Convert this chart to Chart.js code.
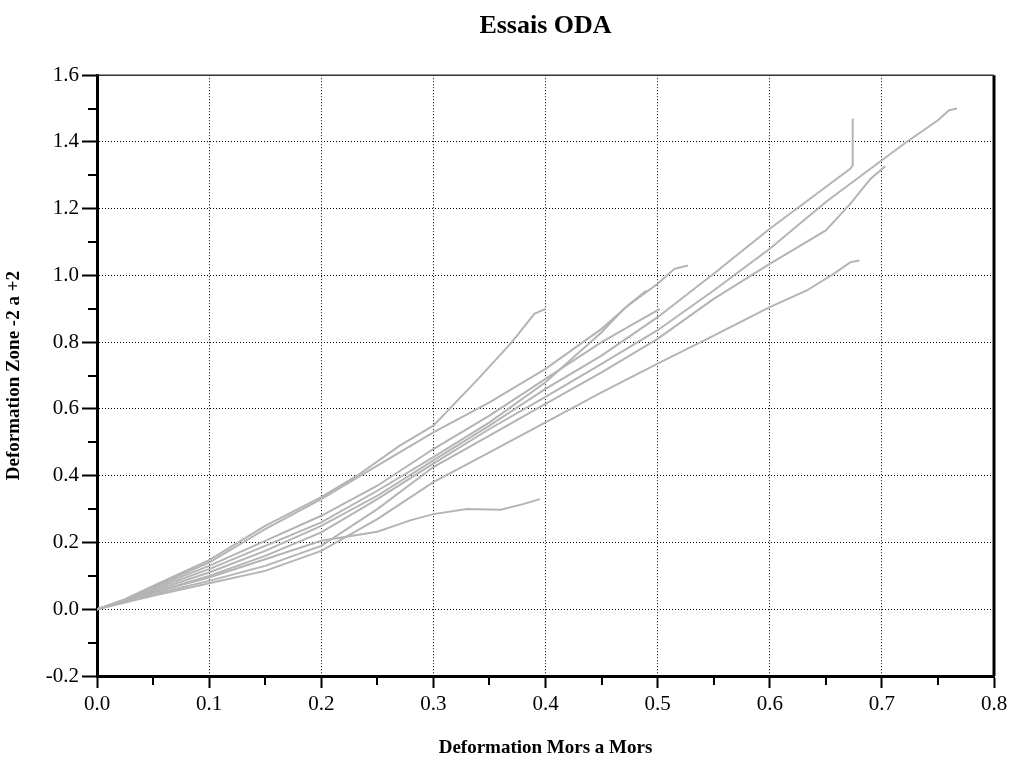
<!DOCTYPE html>
<html>
<head>
<meta charset="utf-8">
<script src="https://cdn.jsdelivr.net/npm/chart.js@4.4.0/dist/chart.umd.min.js"></script>
<style>
  html, body { margin: 0; padding: 0; background: #fff; }
</style>
</head>
<body>
<canvas id="myChart" width="1014" height="769"></canvas>
<script>
// deformation mors a mors (x) / deformation zone -2 a +2 (y), one pair per essai
const essai1X = [0, 0.025, 0.05, 0.1, 0.15, 0.2, 0.232, 0.27, 0.3, 0.34, 0.37, 0.39, 0.4];
const essai1Y = [0, 0.03, 0.07, 0.147, 0.25, 0.336, 0.4, 0.49, 0.55, 0.69, 0.8, 0.885, 0.9];

const essai2X = [0, 0.025, 0.05, 0.1, 0.15, 0.2, 0.25, 0.3, 0.35, 0.4, 0.45, 0.4755, 0.5, 0.515, 0.527];
const essai2Y = [0, 0.028, 0.068, 0.14, 0.24, 0.33, 0.43, 0.53, 0.62, 0.72, 0.84, 0.915, 0.975, 1.02, 1.03];

const essai3X = [0, 0.025, 0.05, 0.1, 0.15, 0.2, 0.25, 0.3, 0.35, 0.4, 0.45, 0.502];
const essai3Y = [0, 0.027, 0.065, 0.13, 0.205, 0.28, 0.37, 0.48, 0.58, 0.69, 0.8, 0.9];

const essai4X = [0, 0.025, 0.05, 0.1, 0.15, 0.2, 0.25, 0.3, 0.35, 0.4, 0.45, 0.47, 0.49];
const essai4Y = [0, 0.026, 0.06, 0.12, 0.19, 0.26, 0.355, 0.456, 0.56, 0.68, 0.83, 0.9, 0.955];

const essai5X = [0, 0.025, 0.05, 0.1, 0.15, 0.2, 0.25, 0.3, 0.35, 0.4, 0.45, 0.5, 0.55, 0.6, 0.65, 0.672, 0.674, 0.674];
const essai5Y = [0, 0.025, 0.055, 0.11, 0.175, 0.25, 0.34, 0.446, 0.55, 0.66, 0.76, 0.875, 1.005, 1.14, 1.265, 1.32, 1.33, 1.47];

const essai6X = [0, 0.025, 0.05, 0.1, 0.15, 0.2, 0.25, 0.3, 0.35, 0.4, 0.45, 0.5, 0.55, 0.6, 0.65, 0.7, 0.722, 0.75, 0.76, 0.767];
const essai6Y = [0, 0.024, 0.05, 0.1, 0.16, 0.23, 0.33, 0.436, 0.54, 0.636, 0.735, 0.836, 0.955, 1.08, 1.22, 1.345, 1.4, 1.465, 1.495, 1.5];

const essai7X = [0, 0.025, 0.05, 0.1, 0.15, 0.2, 0.25, 0.3, 0.35, 0.4, 0.45, 0.5, 0.55, 0.6, 0.65, 0.672, 0.69, 0.703];
const essai7Y = [0, 0.022, 0.045, 0.085, 0.13, 0.19, 0.3, 0.426, 0.52, 0.615, 0.71, 0.81, 0.93, 1.035, 1.135, 1.215, 1.29, 1.327];

const essai8X = [0, 0.025, 0.05, 0.1, 0.15, 0.2, 0.25, 0.3, 0.35, 0.4, 0.45, 0.5, 0.55, 0.6, 0.633, 0.657, 0.672, 0.68];
const essai8Y = [0, 0.02, 0.04, 0.078, 0.115, 0.175, 0.27, 0.381, 0.47, 0.56, 0.65, 0.736, 0.82, 0.905, 0.955, 1.005, 1.04, 1.045];

const essai9X = [0, 0.025, 0.05, 0.1, 0.15, 0.2, 0.25, 0.28, 0.3, 0.33, 0.36, 0.38, 0.395];
const essai9Y = [0, 0.025, 0.05, 0.095, 0.15, 0.205, 0.232, 0.267, 0.285, 0.3, 0.298, 0.315, 0.33];

const series = [
  [essai1X, essai1Y], [essai2X, essai2Y], [essai3X, essai3Y],
  [essai4X, essai4Y], [essai5X, essai5Y], [essai6X, essai6Y],
  [essai7X, essai7Y], [essai8X, essai8Y], [essai9X, essai9Y],
];

const serif = "'Liberation Serif', 'Times New Roman', serif";

const isMajorX = (v) => Math.abs(v * 10 - Math.round(v * 10)) < 1e-6;
const isMajorY = (v) => Math.abs(v * 5 - Math.round(v * 5)) < 1e-6;

// short minor ticks + top/right frame
const frame = {
  id: "frame",
  afterDraw(chart) {
    const { ctx, chartArea: a, scales } = chart;
    ctx.save();
    ctx.strokeStyle = "#000";
    ctx.lineWidth = 2;
    ctx.beginPath();
    scales.x.ticks.forEach((t) => {
      if (isMajorX(t.value)) return;
      const px = Math.round(scales.x.getPixelForValue(t.value));
      ctx.moveTo(px, a.bottom);
      ctx.lineTo(px, a.bottom + 9);
    });
    scales.y.ticks.forEach((t) => {
      if (isMajorY(t.value)) return;
      const py = Math.round(scales.y.getPixelForValue(t.value));
      ctx.moveTo(a.left - 9, py);
      ctx.lineTo(a.left, py);
    });
    ctx.stroke();
    ctx.lineWidth = 3;
    ctx.beginPath();
    ctx.moveTo(a.right, a.top);
    ctx.lineTo(a.right, a.bottom);
    ctx.stroke();
    ctx.lineWidth = 1.5;
    ctx.strokeStyle = "#333";
    ctx.beginPath();
    ctx.moveTo(a.left, a.top);
    ctx.lineTo(a.right, a.top);
    ctx.stroke();
    ctx.restore();
  },
};

const data = {
  datasets: series.map(([xs, ys], i) => ({
    label: "Essai " + (i + 1),
    data: xs.map((x, k) => ({ x: x, y: ys[k] })),
    showLine: true,
    borderColor: "#b4b4b4",
    borderWidth: 2,
    pointRadius: 0,
    fill: false,
    tension: 0,
  })),
};

const config = {
  type: "scatter",
  data: data,
  plugins: [frame],
  options: {
    responsive: false,
    animation: false,
    layout: { padding: { left: 0, right: 20, top: 0, bottom: 0 } },
    plugins: {
      legend: { display: false },
      tooltip: { enabled: false },
      title: {
        display: true,
        fullSize: false,
        text: "Essais ODA",
        color: "#000",
        font: { family: serif, size: 26, weight: "bold" },
        padding: { top: 11, bottom: 33 },
      },
    },
    scales: {
      x: {
        type: "linear",
        min: 0,
        max: 0.8,
        afterFit: (s) => { s.height = 93; },
        border: { color: "#000", width: 3, dash: [1, 2] },
        grid: {
          color: (c) => (c.tick && isMajorX(c.tick.value) && c.tick.value > 0 && c.tick.value < 0.79 ? "#000" : "rgba(0,0,0,0)"),
          lineWidth: 1,
          tickLength: 12,
          tickWidth: 2,
          tickColor: (c) => (c.tick && isMajorX(c.tick.value) ? "#000" : "rgba(0,0,0,0)"),
        },
        ticks: {
          stepSize: 0.05,
          autoSkip: false,
          maxRotation: 0,
          padding: 4,
          color: "#000",
          font: { family: serif, size: 21 },
          callback: (v) => (isMajorX(v) ? Number(v).toFixed(1) : ""),
        },
        title: {
          display: true,
          text: "Deformation Mors a Mors",
          color: "#000",
          font: { family: serif, size: 19, weight: "bold" },
          padding: { top: 0, bottom: 10 },
        },
      },
      y: {
        type: "linear",
        min: -0.2,
        max: 1.6,
        afterFit: (s) => { s.width = 97; },
        border: { color: "#000", width: 3, dash: [1, 2] },
        grid: {
          color: (c) => (c.tick && isMajorY(c.tick.value) && c.tick.value > -0.19 && c.tick.value < 1.59 ? "#000" : "rgba(0,0,0,0)"),
          lineWidth: 1,
          tickLength: 15,
          tickWidth: 2,
          tickColor: (c) => (c.tick && isMajorY(c.tick.value) ? "#000" : "rgba(0,0,0,0)"),
        },
        ticks: {
          stepSize: 0.1,
          autoSkip: false,
          padding: 3,
          color: "#000",
          font: { family: serif, size: 21 },
          callback: (v) => (isMajorY(v) ? Number(v).toFixed(1) : ""),
        },
        title: {
          display: true,
          text: "Deformation Zone -2 a +2",
          color: "#000",
          font: { family: serif, size: 19, weight: "bold" },
          padding: { top: 3, bottom: 0 },
        },
      },
    },
  },
};

const myChart = new Chart(document.getElementById("myChart"), config);
</script>
</body>
</html>
